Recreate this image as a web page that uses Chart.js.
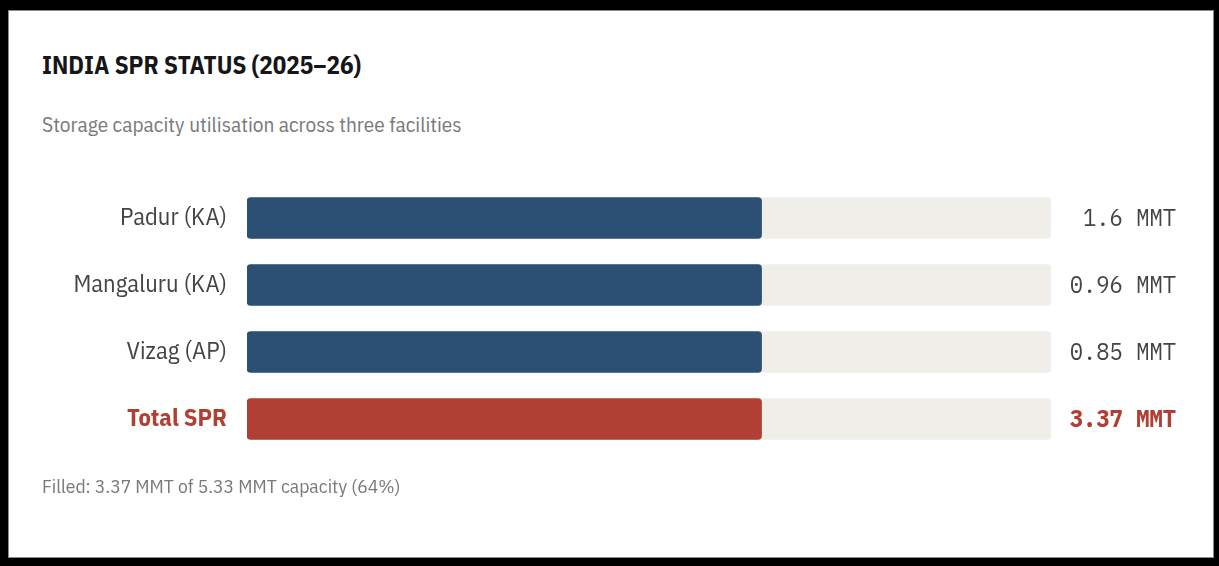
<!DOCTYPE html>
<html lang="en">

<head>
    <meta charset="UTF-8">
    <meta name="viewport" content="width=device-width, initial-scale=1.0">
    <title>India SPR Status</title>
    <script src="https://cdn.jsdelivr.net/npm/chart.js"></script>
    <style>
        body {
            margin: 0;
            background: #000;
            width: 1219px;
            height: 566px;
            overflow: hidden;
        }

        .card {
            position: absolute;
            left: 8px;
            top: 10px;
            width: 1206px;
            height: 548px;
            background: #fff;
            box-shadow: inset 0 0 0 1px #8a8a8a;
            font-family: "IBM Plex Sans Condensed", "Roboto Condensed", "Liberation Sans Narrow", sans-serif;
        }

        .card h1,
        .card p {
            position: absolute;
            left: 34px;
            margin: 0;
            line-height: 1;
            white-space: nowrap;
        }

        .card h1 {
            top: 42px;
            font-size: 25px;
            font-weight: 700;
            color: #161616;
        }

        .card .subtitle {
            top: 104px;
            font-size: 21.2px;
            color: #7a7a7a;
        }

        .card .note {
            top: 466px;
            font-size: 19.5px;
            color: #7a7a7a;
        }

        .chart-box {
            position: absolute;
            left: 0;
            top: 0;
            width: 1206px;
            height: 548px;
        }
    </style>
</head>

<body>
    <div class="card">
        <h1>INDIA SPR STATUS (2025–26)</h1>
        <p class="subtitle">Storage capacity utilisation across three facilities</p>
        <div class="chart-box">
            <canvas id="sprChart"></canvas>
        </div>
        <p class="note">Filled: 3.37 MMT of 5.33 MMT capacity (64%)</p>
    </div>

    <script>
        // stock held per site (million metric tonnes) and share of its capacity in use
        const facilities = ['Padur (KA)', 'Mangaluru (KA)', 'Vizag (AP)', 'Total SPR'];
        const filledMMT = [1.6, 0.96, 0.85, 3.37];
        const filledPct = [64, 64, 64, 64];

        const totalIndex = facilities.length - 1;
        const labelFont = '"IBM Plex Sans Condensed", "Roboto Condensed", "Liberation Sans Narrow", sans-serif';
        const monoFont = '"IBM Plex Mono", "DejaVu Sans Mono", monospace';
        const blue = '#2b5074';
        const red = '#b04033';
        const trackGrey = '#efeee9';

        // each track is the full capacity of its row
        const trackPct = facilities.map(() => 100);

        // "1.6 MMT" etc. to the right of each track
        const valueLabels = {
            id: 'valueLabels',
            afterDatasetsDraw(chart) {
                const { ctx } = chart;
                const yScale = chart.scales.y;
                const right = chart.width - 38;
                ctx.save();
                ctx.textAlign = 'right';
                ctx.textBaseline = 'middle';
                filledMMT.forEach((v, i) => {
                    const isTotal = i === totalIndex;
                    ctx.font = (isTotal ? 'bold ' : '') + '25px ' + monoFont;
                    ctx.fillStyle = isTotal ? red : '#444';
                    ctx.save();
                    ctx.translate(right, yScale.getPixelForValue(i) + 1);
                    ctx.scale(0.885, 1);
                    ctx.fillText(v + ' MMT', 0, 0);
                    ctx.restore();
                });
                ctx.restore();
            }
        };

        new Chart(document.getElementById('sprChart'), {
            type: 'bar',
            data: {
                labels: facilities,
                datasets: [{
                    label: 'Filled',
                    data: filledPct,
                    backgroundColor: facilities.map((f, i) => i === totalIndex ? red : blue),
                    borderRadius: 4,
                    borderSkipped: false,
                    grouped: false,
                    barThickness: 41
                }, {
                    label: 'Capacity',
                    data: trackPct,
                    backgroundColor: trackGrey,
                    borderRadius: 4,
                    borderSkipped: false,
                    grouped: false,
                    barThickness: 41
                }]
            },
            options: {
                indexAxis: 'y',
                responsive: true,
                maintainAspectRatio: false,
                animation: false,
                layout: {
                    padding: { top: 174.5, bottom: 105.5, left: 0, right: 163 }
                },
                scales: {
                    x: {
                        display: false,
                        min: 0,
                        max: 100
                    },
                    y: {
                        grid: { display: false, drawTicks: false },
                        border: { display: false },
                        afterFit(scale) {
                            scale.width = 239;
                        },
                        ticks: {
                            padding: 20,
                            color: (ctx) => ctx.index === totalIndex ? red : '#444',
                            font: (ctx) => ({
                                family: labelFont,
                                size: 24.5,
                                weight: ctx.index === totalIndex ? 'bold' : 'normal'
                            })
                        }
                    }
                },
                plugins: {
                    legend: { display: false },
                    tooltip: { enabled: false }
                }
            },
            plugins: [valueLabels]
        });
    </script>
</body>

</html>
